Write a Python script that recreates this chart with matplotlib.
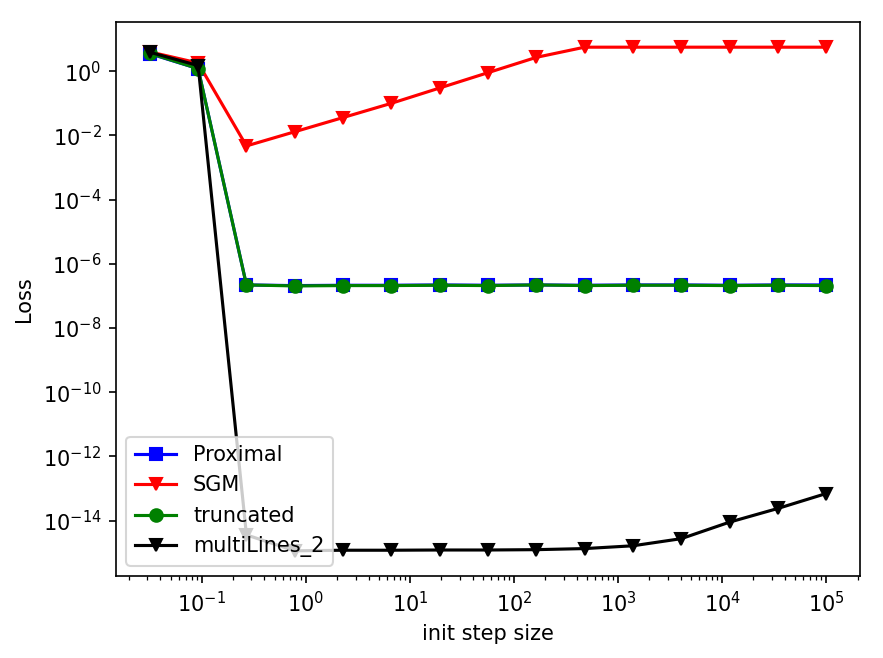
import matplotlib
matplotlib.use("Agg")
import matplotlib.pyplot as plt
import numpy as np

# step sizes (log spaced from 10^-1.5 to 10^5)
step_sizes = np.logspace(-1.5, 5, 15)

proximal = [3.5, 1.2, 2.2e-7, 2.1e-7, 2.15e-7, 2.15e-7, 2.2e-7, 2.15e-7, 2.2e-7,
            2.15e-7, 2.2e-7, 2.2e-7, 2.15e-7, 2.2e-7, 2.2e-7]
sgm = [4.0, 1.8, 4.7e-3, 1.3e-2, 3.6e-2, 1.0e-1, 3.0e-1, 9.0e-1, 2.7,
       5.6, 5.6, 5.6, 5.6, 5.6, 5.6]
truncated = [3.6, 1.2, 2.2e-7, 2.05e-7, 2.1e-7, 2.1e-7, 2.15e-7, 2.1e-7, 2.2e-7,
             2.1e-7, 2.15e-7, 2.15e-7, 2.1e-7, 2.15e-7, 2.1e-7]
multilines_2 = [3.9, 1.5, 3.6e-15, 1.15e-15, 1.2e-15, 1.2e-15, 1.22e-15, 1.22e-15,
                1.25e-15, 1.35e-15, 1.65e-15, 2.75e-15, 9.0e-15, 2.4e-14, 7.0e-14]


def plot_loss():
    dpi = 150
    fig = plt.figure(figsize=(883 / dpi, 658 / dpi), dpi=dpi)
    # axes box placed to match the cropped layout
    ax = fig.add_axes([116 / 883, 1 - 576 / 658, (860 - 116) / 883, (576 - 22) / 658])

    ax.plot(step_sizes, proximal, color='blue', marker='s', label='Proximal')
    ax.plot(step_sizes, sgm, color='red', marker='v', label='SGM')
    ax.plot(step_sizes, truncated, color='green', marker='o', label='truncated')
    ax.plot(step_sizes, multilines_2, color='black', marker='v', label='multiLines_2')

    ax.set_xscale('log')
    ax.set_yscale('log')
    ax.set_xlabel('init step size')
    ax.set_ylabel('Loss')
    ax.legend(loc='lower left')

    fig.savefig('out.png', dpi=dpi)


if __name__ == "__main__":
    plot_loss()
